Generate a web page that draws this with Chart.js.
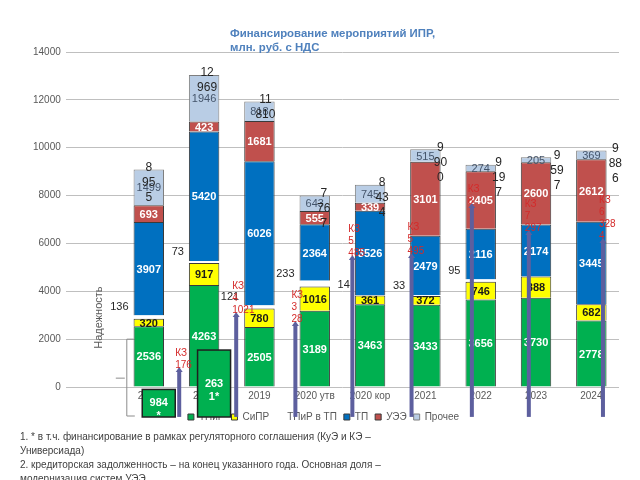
<!DOCTYPE html>
<html>
<head>
<meta charset="utf-8">
<script src="https://cdn.jsdelivr.net/npm/chart.js@4.4.0/dist/chart.umd.min.js"></script>
<style>
    body { margin: 0; background: #fff; font-family: "Liberation Sans", Arial, sans-serif; }
    #wrap { position: relative; width: 640px; height: 480px; overflow: hidden; }
    #chart { position: absolute; left: 0; top: 0; }
    #ttl { position: absolute; left: 230px; top: 26px; color: #4f81bd; font-weight: bold; font-size: 11.4px; line-height: 14px; }
    #notes { position: absolute; left: 20px; top: 430px; color: #404040; font-size: 10px; line-height: 14px; }
</style>
</head>
<body>
<div id="wrap">
    <canvas id="chart" width="640" height="440"></canvas>
    <div id="ttl">Финансирование мероприятий ИПР,<br>млн. руб. с НДС</div>
    <div id="notes">1. * в т.ч. финансирование в рамках регуляторного соглашения (КуЭ и КЭ –<br>Универсиада)<br>2. кредиторская задолженность – на конец указанного года. Основная доля –<br>модернизация систем УЭЭ</div>
</div>
<script>
// категории (первая пустая - место под "Надежность")
var years = ['', '2017', '2018', '2019', '2020 утв', '2020 кор', '2021', '2022', '2023', '2024']

// серии, млн руб
var tpir = [null, 2536, 4263, 2505, 3189, 3463, 3433, 3656, 3730, 2778]
var sipr = [null, 320, 917, 780, 1016, 361, 372, 746, 888, 682]
var tpirTp = [null, 136, 73, 121, 233, 14, 33, 95, null, null]
var tp = [null, 3907, 5420, 6026, 2364, 3526, 2479, 2116, 2174, 3445]
var uee = [null, 693, 423, 1681, 555, 339, 3101, 2405, 2600, 2612]
var other = [null, 1499, 1946, 818, 643, 745, 515, 274, 205, 369]

var yTicks = [0, 2000, 4000, 6000, 8000, 10000, 12000, 14000]

// кредиторская задолженность (стрелки)
var kzPos = [1.55, 2.58, 3.65, 4.68, 5.75, 6.84, 7.87, 9.21]
var kzTop = [840, 3130, 2760, 5520, 5600, 7690, 6560, 6230]
var kzBase = -1250
var kzText = [['КЗ', '176'], ['КЗ', '4', '1021'], ['КЗ', '3', '28'], ['КЗ', '5', '485'], ['КЗ', '5', '495'], ['КЗ', '8'], ['КЗ', '7', '297'], ['КЗ', '6', '328', '4']]

// регуляторное соглашение
var regPos = [1.18, 2.18]
var regValue = [984, 2631]

Chart.defaults.font.family = '"Liberation Sans", Arial, sans-serif'

function totalOf(i) {
    return tpir[i] + sipr[i] + tp[i] + uee[i] + other[i]
}

function totalLines(t) {
    var th = String(Math.floor(t / 1000))
    var rest = String(t % 1000).padStart(3, '0')
    if (t >= 10000) return [th, rest]
    return [th, rest.slice(0, 2), rest.slice(2)]
}

var labelPlugin = {
    id: 'barLabels',
    afterDatasetsDraw(chart) {
        var ctx = chart.ctx
        ctx.save()
        ctx.textBaseline = 'middle'
        chart.data.datasets.forEach(function (ds, di) {
            var meta = chart.getDatasetMeta(di)
            meta.data.forEach(function (bar, i) {
                var v = ds.data[i]
                if (v == null) return
                var cy = (bar.y + bar.base) / 2
                if (di == 2) {
                    ctx.font = '11px "Liberation Sans", Arial'
                    ctx.fillStyle = '#262626'
                    ctx.textAlign = 'right'
                    ctx.fillText(String(v), bar.x - bar.width / 2 - 5, cy - 10)
                    return
                }
                ctx.textAlign = 'center'
                if (di == 1) {
                    ctx.font = 'bold 11px "Liberation Sans", Arial'
                    ctx.fillStyle = '#1a1a1a'
                } else if (di == 5) {
                    ctx.font = '11px "Liberation Sans", Arial'
                    ctx.fillStyle = '#44546a'
                } else {
                    ctx.font = 'bold 11px "Liberation Sans", Arial'
                    ctx.fillStyle = '#ffffff'
                }
                ctx.fillText(String(v), bar.x, cy + 1)
            })
        })

        // итоги
        var top = chart.getDatasetMeta(5)
        ctx.font = '12px "Liberation Sans", Arial'
        ctx.fillStyle = '#262626'
        ctx.textAlign = 'center'
        top.data.forEach(function (bar, i) {
            if (other[i] == null) return
            var lines = totalLines(totalOf(i))
            lines.forEach(function (s, k) {
                ctx.fillText(s, bar.x + 3 * (i - 1), bar.y - 2 + k * 15)
            })
        })
        ctx.restore()
    },
    afterDraw(chart) {
        var ctx = chart.ctx
        var xs = chart.scales.x
        var ys = chart.scales.y
        var area = chart.chartArea
        ctx.save()

        // Надежность
        ctx.strokeStyle = '#8c8c8c'
        ctx.lineWidth = 1
        var bx = area.left + 61
        var bt = ys.getPixelForValue(2000)
        var bb = ys.getPixelForValue(0) + 29
        ctx.beginPath()
        ctx.moveTo(bx + 7, bt); ctx.lineTo(bx, bt); ctx.lineTo(bx, bb); ctx.lineTo(bx + 8, bb)
        ctx.moveTo(bx - 11, bt + 39); ctx.lineTo(bx - 2, bt + 39)
        ctx.stroke()
        ctx.translate(area.left + 33, ys.getPixelForValue(2900))
        ctx.rotate(-Math.PI / 2)
        ctx.font = '11px "Liberation Sans", Arial'
        ctx.fillStyle = '#595959'
        ctx.textAlign = 'center'
        ctx.textBaseline = 'middle'
        ctx.fillText('Надежность', 0, 0)
        ctx.setTransform(1, 0, 0, 1, 0, 0)

        // стрелки КЗ
        kzPos.forEach(function (p, k) {
            var x = xs.getPixelForValue(p)
            var y1 = ys.getPixelForValue(kzTop[k])
            var y0 = ys.getPixelForValue(kzBase)
            ctx.fillStyle = '#5d5f9e'
            ctx.fillRect(x - 2, y1 + 4, 4, y0 - y1 - 4)
            ctx.beginPath()
            ctx.moveTo(x - 3.5, y1 + 5); ctx.lineTo(x, y1); ctx.lineTo(x + 3.5, y1 + 5)
            ctx.closePath()
            ctx.fill()
            ctx.font = '10px "Liberation Sans", Arial'
            ctx.fillStyle = '#d42a2a'
            ctx.textAlign = 'left'
            ctx.textBaseline = 'middle'
            var lines = kzText[k]
            lines.forEach(function (s, j) {
                ctx.fillText(s, x - 4, y1 - 2 - (lines.length - 1 - j) * 12)
            })
        })

        // регуляторное соглашение
        regPos.forEach(function (p, k) {
            var x = xs.getPixelForValue(p)
            var w = 33
            var yt = ys.getPixelForValue(regValue[k]) + 26
            var yb = ys.getPixelForValue(0) + 30
            ctx.fillStyle = '#00b050'
            ctx.fillRect(x - w / 2, yt, w, yb - yt)
            ctx.strokeStyle = '#1f1f1f'
            ctx.lineWidth = 1.5
            ctx.strokeRect(x - w / 2, yt, w, yb - yt)
            var s = String(regValue[k]) + '*'
            var cy = (yt + yb) / 2
            ctx.font = 'bold 11px "Liberation Sans", Arial'
            ctx.fillStyle = '#ffffff'
            ctx.textAlign = 'center'
            ctx.fillText(s.slice(0, 3), x, cy)
            ctx.fillText(s.slice(3), x, cy + 13)
        })
        ctx.restore()
    }
}

var ctx = document.getElementById('chart').getContext('2d')
var chart = new Chart(ctx, {
    type: 'bar',
    data: {
        labels: years,
        datasets: [
            { label: 'ТПиР', data: tpir, backgroundColor: '#00b050', borderColor: '#3a3a3a', borderWidth: 1 },
            { label: 'СиПР', data: sipr, backgroundColor: '#ffff00', borderColor: '#3a3a3a', borderWidth: 1 },
            { label: 'ТПиР в ТП', data: tpirTp, backgroundColor: '#ffffff', borderWidth: 0 },
            { label: 'ТП', data: tp, backgroundColor: '#0070c0', borderColor: '#3a3a3a', borderWidth: 1 },
            { label: 'УЭЭ', data: uee, backgroundColor: '#c0504d', borderColor: '#3a3a3a', borderWidth: 1 },
            { label: 'Прочее', data: other, backgroundColor: '#b9cde5', borderColor: '#7f7f7f', borderWidth: 1 }
        ]
    },
    options: {
        responsive: false,
        animation: false,
        layout: { padding: { left: 28, right: 21, top: 52, bottom: 8 } },
        datasets: { bar: { barPercentage: 0.55, categoryPercentage: 1 } },
        scales: {
            x: {
                stacked: true,
                grid: { display: false, drawTicks: false },
                border: { display: false },
                ticks: { color: '#595959', font: { size: 10 }, padding: 3 }
            },
            y: {
                stacked: true,
                min: 0,
                max: 14000,
                afterBuildTicks: function (axis) { axis.ticks = yTicks.map(v => ({ value: v })) },
                grid: { color: '#bfbfbf', drawTicks: false },
                border: { display: false },
                ticks: { color: '#595959', font: { size: 10 }, padding: 5, callback: v => String(v) }
            }
        },
        plugins: {
            legend: {
                position: 'bottom',
                labels: { boxWidth: 6, boxHeight: 6, padding: 7, color: '#595959', font: { size: 10 } }
            },
            tooltip: { enabled: false }
        }
    },
    plugins: [labelPlugin]
})
</script>
</body>
</html>
